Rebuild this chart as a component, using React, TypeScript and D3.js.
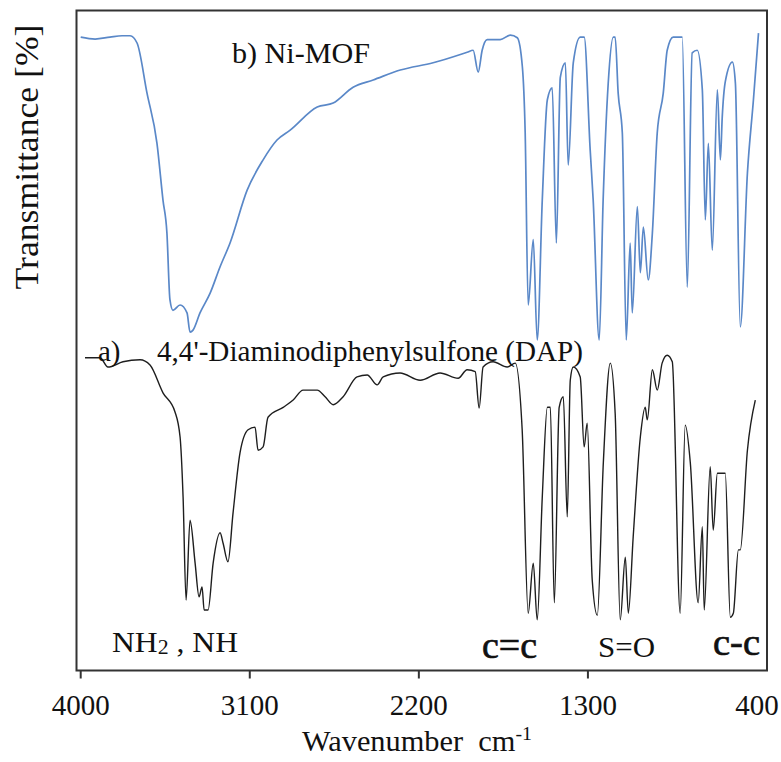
import React from "react";
import * as d3 from "d3";

// Ni-MOF spectrum (wavenumber cm-1, transmittance a.u.)
const mofWn = [4000, 3923, 3844, 3780, 3737, 3700, 3647, 3594, 3562, 3541, 3525, 3509, 3471, 3434, 3418, 3402, 3365, 3311, 3258, 3205, 3114, 3029, 2955, 2885, 2741, 2656, 2550, 2443, 2299, 2124, 1943, 1911, 1884, 1863, 1836, 1767, 1713, 1676, 1649, 1634, 1618, 1591, 1570, 1543, 1516, 1490, 1468, 1447, 1420, 1405, 1378, 1341, 1320, 1288, 1272, 1240, 1219, 1192, 1165, 1155, 1139, 1117, 1096, 1075, 1064, 1037, 1021, 1005, 979, 957, 931, 899, 878, 846, 798, 771, 745, 718, 691, 675, 659, 638, 611, 595, 585, 569, 531, 515, 489, 451, 419, 392];
const mofT = [95.9, 95.6, 95.9, 96.1, 96.1, 95.0, 87.4, 79.8, 71.2, 66.2, 56.1, 54.5, 55.3, 54.1, 51.2, 51.5, 54.1, 57.1, 61.1, 64.7, 72.7, 77.3, 80.3, 81.8, 85.3, 85.9, 88.3, 89.4, 90.9, 92.0, 93.6, 93.9, 90.6, 93.9, 95.5, 95.5, 96.2, 95.8, 91.4, 81.4, 55.3, 65.2, 50.0, 71.2, 86.4, 88.2, 64.7, 89.8, 92.0, 76.5, 92.0, 95.9, 95.9, 78.8, 71.2, 50.0, 71.2, 88.9, 95.9, 95.9, 87.4, 81.4, 50.0, 64.7, 54.1, 70.2, 60.2, 67.1, 59.1, 66.2, 81.4, 87.4, 93.9, 95.9, 95.9, 58.0, 93.5, 93.9, 87.9, 68.2, 79.8, 63.6, 87.9, 77.3, 83.8, 89.1, 92.1, 88.9, 52.0, 75.3, 86.4, 96.5];

// DAP spectrum
const dapWn = [3977, 3897, 3855, 3775, 3684, 3631, 3562, 3498, 3471, 3455, 3439, 3418, 3391, 3370, 3354, 3343, 3322, 3295, 3258, 3242, 3216, 3189, 3152, 3109, 3072, 3056, 3029, 3003, 2922, 2869, 2816, 2741, 2699, 2656, 2603, 2529, 2475, 2422, 2390, 2300, 2193, 2087, 1991, 1943, 1900, 1879, 1858, 1805, 1730, 1687, 1650, 1618, 1591, 1570, 1543, 1516, 1500, 1479, 1453, 1431, 1410, 1394, 1378, 1341, 1320, 1304, 1277, 1250, 1218, 1181, 1155, 1128, 1101, 1085, 1059, 1021, 995, 984, 957, 931, 905, 878, 851, 809, 782, 755, 713, 691, 681, 649, 633, 611, 569, 542, 526, 499, 489, 451, 409];
const dapT = [47.3, 47.3, 45.9, 46.7, 47.0, 46.2, 42.0, 39.1, 35.3, 26.2, 10.6, 22.7, 16.2, 11.1, 12.6, 9.1, 9.1, 16.2, 20.8, 19.2, 16.4, 23.8, 32.9, 36.4, 36.8, 33.3, 33.8, 38.3, 39.8, 40.9, 42.4, 42.4, 41.4, 40.2, 41.4, 44.4, 44.7, 43.2, 44.4, 45.0, 43.9, 45.0, 44.2, 45.5, 45.2, 39.7, 45.9, 46.7, 45.9, 46.5, 36.4, 8.6, 16.2, 7.6, 26.2, 39.8, 39.8, 10.2, 39.8, 41.4, 23.2, 43.9, 45.9, 44.4, 33.8, 37.4, 13.6, 8.3, 31.4, 46.5, 38.9, 7.6, 17.1, 8.6, 20.2, 35.3, 39.8, 37.9, 45.5, 42.4, 46.5, 47.7, 46.7, 8.6, 37.1, 31.4, 10.2, 21.7, 9.1, 30.8, 21.2, 29.8, 29.8, 8.0, 8.6, 18.2, 18.2, 33.3, 40.9];

const xTicks = [4000, 3100, 2200, 1300, 400];
const tickMarks = [4000, 3100, 2200, 1300];

const FONT = "'Liberation Serif', 'Times New Roman', serif";

export default function App() {
  const W = 781, H = 762;
  const box = { left: 76.5, right: 767, top: 10.5, bottom: 670.5 };
  const x = d3.scaleLinear().domain([4000, 400]).range([80.7, 757]);
  const y = d3.scaleLinear().domain([0, 100]).range([670, 10]);

  const line = d3
    .line<[number, number]>()
    .x((d) => x(d[0]))
    .y((d) => y(d[1]))
    .curve(d3.curveMonotoneX);

  const mof = mofWn.map((w, i) => [w, mofT[i]] as [number, number]);
  const dap = dapWn.map((w, i) => [w, dapT[i]] as [number, number]);

  return (
    <svg
      width={W}
      height={H}
      style={{ position: "absolute", left: 0, top: 0, background: "#fff" }}
      fontFamily={FONT}
    >
      <rect x={0} y={0} width={W} height={H} fill="#fff" />
      <path d={line(mof) || ""} fill="none" stroke="#5a88c8" strokeWidth={1.7} />
      <path d={line(dap) || ""} fill="none" stroke="#1e1e1e" strokeWidth={1.4} />

      <rect
        x={box.left}
        y={box.top}
        width={box.right - box.left}
        height={box.bottom - box.top}
        fill="none"
        stroke="#333"
        strokeWidth={2}
      />
      {tickMarks.map((t) => (
        <line key={t} x1={x(t)} x2={x(t)} y1={box.bottom} y2={box.bottom + 8} stroke="#333" strokeWidth={2} />
      ))}
      {xTicks.map((t) => (
        <text key={t} x={x(t)} y={715} textAnchor="middle" fontSize={29} fill="#111">
          {t}
        </text>
      ))}

      <text x={302} y={751} fontSize={29} fill="#111" textLength={230} lengthAdjust="spacingAndGlyphs">
        Wavenumber{"\u00a0\u00a0"}cm
        <tspan fontSize={19} dy={-11}>-1</tspan>
      </text>
      <text
        transform={`translate(38,157) rotate(-90)`}
        textAnchor="middle"
        fontSize={34}
        fill="#111"
        textLength={265}
        lengthAdjust="spacingAndGlyphs"
      >
        Transmittance [%]
      </text>

      <text x={232} y={63} fontSize={29} fill="#111" textLength={138} lengthAdjust="spacingAndGlyphs">b) Ni-MOF</text>
      <text x={98} y={361} fontSize={29} fill="#111">a)</text>
      <text x={157} y={361} fontSize={29} fill="#111" textLength={426} lengthAdjust="spacingAndGlyphs">
        4,4'-Diaminodiphenylsulfone{"\u00a0"}(DAP)
      </text>
      <text x={112} y={652} fontSize={29} fill="#111" textLength={126} lengthAdjust="spacingAndGlyphs">
        NH<tspan fontSize={20} dy={2}>2</tspan>
        <tspan dy={-2}>{"\u00a0,\u00a0"}NH</tspan>
      </text>
      <text x={482} y={658} fontSize={38} fill="#111" stroke="#111" strokeWidth={0.7} textLength={55} lengthAdjust="spacingAndGlyphs">c=c</text>
      <text x={598} y={657} fontSize={30} fill="#111" textLength={57} lengthAdjust="spacingAndGlyphs">S=O</text>
      <text x={713} y={655} fontSize={38} fill="#111" stroke="#111" strokeWidth={0.7} textLength={47} lengthAdjust="spacingAndGlyphs">c-c</text>
    </svg>
  );
}
